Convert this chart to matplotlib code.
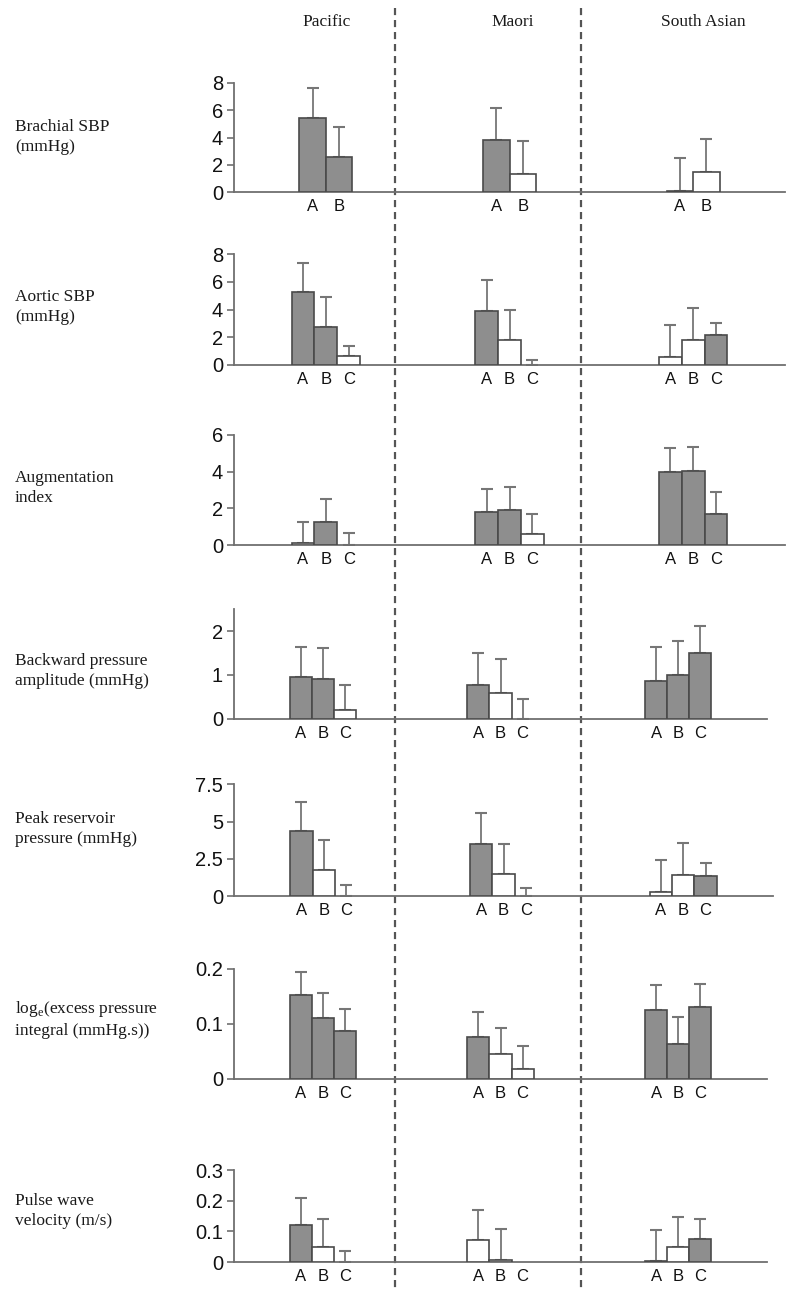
import matplotlib
matplotlib.use("Agg")
import matplotlib.pyplot as plt
from matplotlib.lines import Line2D
import numpy as np

# ---------------- data ----------------
groups = ["Pacific", "Maori", "South Asian"]
bar_labels3 = ["A", "B", "C"]
bar_labels2 = ["A", "B"]

row_labels = [
    "Brachial SBP\n(mmHg)",
    "Aortic SBP\n(mmHg)",
    "Augmentation\nindex",
    "Backward pressure\namplitude (mmHg)",
    "Peak reservoir\npressure (mmHg)",
    "log$_\\mathregular{e}$(excess pressure\nintegral (mmHg.s))",
    "Pulse wave\nvelocity (m/s)",
]

# means per group [Pacific, Maori, South Asian] x bars
brachial_mean = [[5.45, 2.60], [3.82, 1.32], [0.05, 1.50]]
brachial_err = [[2.15, 2.20], [2.33, 2.45], [2.43, 2.37]]
brachial_fill = [[1, 1], [1, 0], [0, 0]]

aortic_mean = [[5.29, 2.73, 0.63], [3.89, 1.77, 0.00], [0.56, 1.81, 2.17]]
aortic_err = [[2.08, 2.20, 0.75], [2.22, 2.22, 0.36], [2.29, 2.30, 0.87]]
aortic_fill = [[1, 1, 0], [1, 0, 0], [0, 0, 1]]

aug_mean = [[0.14, 1.25, 0.00], [1.81, 1.92, 0.63], [3.99, 4.01, 1.71]]
aug_err = [[1.14, 1.25, 0.68], [1.23, 1.24, 1.08], [1.29, 1.31, 1.18]]
aug_fill = [[0, 1, 0], [1, 1, 0], [1, 1, 1]]

back_mean = [[0.95, 0.90, 0.21], [0.76, 0.59, 0.00], [0.87, 1.00, 1.51]]
back_err = [[0.69, 0.72, 0.55], [0.75, 0.77, 0.46], [0.76, 0.78, 0.61]]
back_fill = [[1, 1, 0], [1, 0, 0], [1, 1, 1]]

res_mean = [[4.38, 1.75, 0.00], [3.51, 1.45, 0.00], [0.27, 1.39, 1.32]]
res_err = [[1.91, 2.03, 0.74], [2.06, 2.06, 0.52], [2.15, 2.19, 0.87]]
res_fill = [[1, 0, 0], [1, 0, 0], [0, 0, 1]]

xs_mean = [[0.152, 0.111, 0.0875], [0.0755, 0.045, 0.0177], [0.1247, 0.0638, 0.130]]
xs_err = [[0.0425, 0.045, 0.0395], [0.046, 0.047, 0.042], [0.047, 0.049, 0.043]]
xs_fill = [[1, 1, 1], [1, 0, 0], [1, 1, 1]]

pwv_mean = [[0.120, 0.050, 0.000], [0.072, 0.008, 0.000], [0.004, 0.048, 0.075]]
pwv_err = [[0.090, 0.090, 0.035], [0.098, 0.100, 0.000], [0.101, 0.100, 0.065]]
pwv_fill = [[1, 0, 0], [0, 0, 0], [0, 0, 1]]

y_ticks = [
    [0, 2, 4, 6, 8],
    [0, 2, 4, 6, 8],
    [0, 2, 4, 6],
    [0, 1, 2],
    [0, 2.5, 5, 7.5],
    [0, 0.1, 0.2],
    [0, 0.1, 0.2, 0.3],
]
y_ticklabels = [
    ["0", "2", "4", "6", "8"],
    ["0", "2", "4", "6", "8"],
    ["0", "2", "4", "6"],
    ["0", "1", "2"],
    ["0", "2.5", "5", "7.5"],
    ["0", "0.1", "0.2"],
    ["0", "0.1", "0.2", "0.3"],
]
y_top = [8, 8, 6, 2.5, 7.5, 0.2, 0.3]

rows = [
    (brachial_mean, brachial_err, brachial_fill),
    (aortic_mean, aortic_err, aortic_fill),
    (aug_mean, aug_err, aug_fill),
    (back_mean, back_err, back_fill),
    (res_mean, res_err, res_fill),
    (xs_mean, xs_err, xs_fill),
    (pwv_mean, pwv_err, pwv_fill),
]

# ---------------- layout (pixels) ----------------
W, H = 800, 1295
ax_left = 234
ax_bottoms = [192, 364.7, 545.3, 718.7, 896, 1078.7, 1262]
ax_tops = [83, 254.3, 434.7, 609.3, 784.3, 969, 1170]
ax_rights = [785, 785, 785, 767, 773, 767, 767]
label_ycent = [137, 307, 488, 671, 829, 1019, 1211]

GRAY = "#8e8e8e"
EDGE = "#4a4a4a"
AXC = "#6f6f6f"
ERRC = "#767676"

serif = "Liberation Serif"
sans = "Liberation Sans"
plt.rcParams["mathtext.fontset"] = "custom"
plt.rcParams["mathtext.rm"] = serif

fig = plt.figure(figsize=(W / 100, H / 100), dpi=100)

for r, (means, errs, fills) in enumerate(rows):
    b, t, rt = ax_bottoms[r], ax_tops[r], ax_rights[r]
    ax = fig.add_axes([ax_left / W, 1 - b / H, (rt - ax_left) / W, (b - t) / H])
    nb = len(means[0])
    width = 0.1245 if nb == 3 else 0.145
    labels = bar_labels3 if nb == 3 else bar_labels2
    xt, xl = [], []
    for g in range(3):
        center = g + 0.5
        offs = (np.arange(nb) - (nb - 1) / 2) * width
        xpos = center + offs
        for k in range(nb):
            fc = GRAY if fills[g][k] else "white"
            if means[g][k] > 0:
                ax.bar(xpos[k], means[g][k], width=width, color=fc,
                       edgecolor=EDGE, linewidth=1.2, zorder=3)
            if errs[g][k] > 0:
                ax.errorbar(xpos[k], means[g][k],
                            yerr=[[0], [errs[g][k]]], fmt="none",
                            ecolor=ERRC, elinewidth=1.3, capsize=4,
                            capthick=1.5, zorder=2)
            xt.append(xpos[k])
            xl.append(labels[k])
    ax.set_xlim(0, 3)
    ax.set_ylim(0, y_top[r])
    ax.set_xticks(xt)
    ax.set_xticklabels(xl, fontfamily=sans, fontsize=12, color="#111111")
    ax.tick_params(axis="x", length=0, pad=5)
    ax.set_yticks(y_ticks[r])
    ax.set_yticklabels(y_ticklabels[r], fontfamily=sans, fontsize=14.5,
                       color="#111111")
    ax.tick_params(axis="y", direction="out", length=5, width=1.2,
                   color=AXC, pad=3)
    for s in ["top", "right"]:
        ax.spines[s].set_visible(False)
    for s in ["left", "bottom"]:
        ax.spines[s].set_color(AXC)
        ax.spines[s].set_linewidth(1.3)
    ax.patch.set_alpha(0)
    # row label
    fig.text(15 / W, 1 - label_ycent[r] / H, row_labels[r],
             fontfamily=serif, fontsize=12.5, ha="left", va="center",
             linespacing=1.3, color="#1a1a1a")

# column headers
for name, xc in zip(groups, [327, 513, 703]):
    fig.text(xc / W, 1 - 22 / H, name, fontfamily=serif, fontsize=12.5,
             ha="center", va="center", color="#1a1a1a")

# dashed separators
for xd in [395, 581]:
    fig.add_artist(Line2D([xd / W, xd / W], [1 - 8 / H, 1 - 1292 / H],
                          transform=fig.transFigure, color="#555555",
                          linewidth=1.6, linestyle=(0, (3.2, 2.2)),
                          zorder=0))

fig.savefig("out.png", dpi=100)
